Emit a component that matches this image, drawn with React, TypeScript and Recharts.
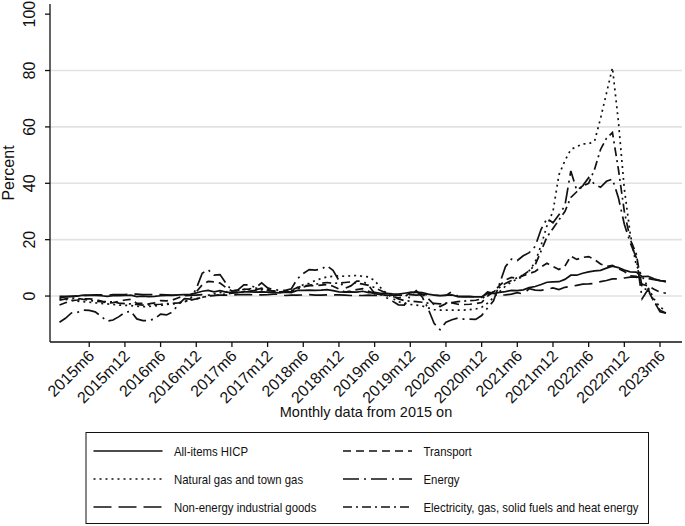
import React from 'react';
import { LineChart, Line, XAxis, YAxis, CartesianGrid } from 'recharts';

// Monthly data, 2015m1 .. 2023m7 (annual rates of change, percent)
const hicp = [
  -0.6, -0.3, -0.1, 0.0, 0.3, 0.2, 0.2, 0.1, -0.1, 0.1, 0.1, 0.2,
  0.3, -0.2, 0.0, -0.2, -0.1, 0.1, 0.2, 0.2, 0.4, 0.5, 0.6, 1.1,
  1.7, 2.0, 1.5, 1.9, 1.4, 1.3, 1.3, 1.5, 1.5, 1.4, 1.5, 1.4,
  1.3, 1.1, 1.4, 1.2, 2.0, 2.0, 2.1, 2.0, 2.1, 2.3, 1.9, 1.5,
  1.4, 1.5, 1.4, 1.7, 1.2, 1.3, 1.0, 1.0, 0.8, 0.7, 1.0, 1.3,
  1.4, 1.2, 0.7, 0.3, 0.1, 0.3, 0.4, -0.2, -0.3, -0.3, -0.3, -0.3,
  0.9, 0.9, 1.3, 1.6, 2.0, 1.9, 2.2, 3.0, 3.4, 4.1, 4.9, 5.0,
  5.1, 5.9, 7.4, 7.4, 8.1, 8.6, 8.9, 9.1, 9.9, 10.6, 10.1, 9.2,
  8.6, 8.5, 6.9, 7.0, 6.1, 5.5, 5.3,
];

const transport = [
  -3.2, -2.4, -1.6, -1.4, -1.0, -1.0, -1.2, -1.8, -2.5, -2.3, -1.9, -1.4,
  -1.2, -2.6, -2.6, -2.8, -2.4, -1.6, -1.7, -1.4, -0.6, 0.1, 0.2, 1.5,
  4.0, 5.2, 5.0, 4.6, 3.0, 1.8, 1.8, 2.4, 2.5, 2.2, 2.8, 2.2,
  1.7, 1.5, 1.7, 2.0, 3.0, 3.6, 3.8, 3.6, 3.9, 4.1, 3.5, 2.5,
  1.4, 1.8, 2.3, 2.6, 1.7, 0.8, 0.6, 0.2, -0.2, -0.6, -0.3, 1.2,
  1.5, 0.6, -0.9, -3.0, -3.7, -2.7, -2.4, -2.9, -3.0, -2.9, -2.7, -2.3,
  0.0, 1.5, 3.7, 5.7, 6.6, 6.3, 7.2, 8.0, 8.7, 10.3, 11.6, 10.5,
  9.4, 10.6, 14.2, 13.0, 13.7, 14.0, 12.9, 11.4, 10.5, 10.9, 9.7, 8.7,
  7.2, 7.0, 4.2, 3.6, 2.4, 1.4, 1.0,
];

const naturalGas = [
  -1.0, -1.2, -1.5, -1.8, -2.0, -2.2, -2.4, -2.6, -2.8, -3.0, -3.2, -3.3,
  -3.4, -3.6, -3.8, -3.7, -3.5, -3.3, -3.0, -2.8, -2.5, -2.0, -1.5, -1.0,
  -0.5, 0.3, 0.8, 1.2, 1.5, 1.8, 2.0, 2.3, 2.6, 2.8, 2.5, 2.2,
  1.8, 1.5, 1.6, 2.0, 3.0, 4.0, 4.5, 5.5, 6.2, 6.8, 7.0, 7.2,
  7.0, 7.2, 7.3, 7.0, 6.8, 5.5, 3.0, 1.0, -0.8, -2.0, -2.6, -3.0,
  -3.2, -3.5, -4.2, -4.8, -5.0, -5.0, -5.0, -5.0, -5.0, -4.8, -4.6, -4.0,
  -2.5, -0.5, 1.5, 3.5, 5.0, 6.0, 7.0, 9.0, 12.0, 18.0, 25.0, 30.0,
  43.0, 48.0, 52.0, 53.0, 54.0, 54.0, 55.0, 63.0, 72.0, 81.0, 62.0, 38.0,
  22.0, 11.0, 7.0, 3.0, -1.0, -4.0, -5.0,
];

const energy = [
  -9.3, -7.9, -6.0, -5.8, -5.0, -5.1, -5.6, -7.2, -8.9, -8.5, -7.3, -5.8,
  -5.4, -8.1, -8.7, -8.7, -8.1, -6.4, -6.7, -5.6, -3.0, -0.9, -1.1, 2.6,
  8.1, 9.3, 7.4, 7.6, 4.5, 1.9, 2.2, 4.0, 3.9, 3.0, 4.7, 2.9,
  2.2, 2.1, 2.0, 2.6, 6.1, 8.0, 9.4, 9.2, 9.5, 10.7, 9.1, 5.5,
  2.7, 3.6, 5.3, 5.3, 3.8, 0.9, 0.5, -0.6, -1.8, -3.1, -3.2, 0.2,
  1.9, -0.3, -4.5, -9.7, -11.9, -9.3, -8.4, -7.8, -8.2, -8.2, -8.3, -6.9,
  -4.2, -1.7, 4.3, 10.4, 13.1, 12.6, 14.3, 15.4, 17.6, 23.7, 27.5, 26.0,
  28.8, 32.0, 44.4, 37.5, 39.1, 42.0, 39.6, 38.6, 40.7, 41.5, 34.9, 25.5,
  18.9, 13.7, -0.9, 2.4, -1.8, -5.6, -6.1,
];

const nonEnergyIndustrialGoods = [
  -0.1, -0.1, -0.1, 0.1, 0.2, 0.3, 0.4, 0.4, 0.3, 0.5, 0.5, 0.5,
  0.7, 0.7, 0.5, 0.5, 0.5, 0.5, 0.4, 0.3, 0.3, 0.3, 0.3, 0.3,
  0.5, 0.2, 0.2, 0.3, 0.3, 0.4, 0.5, 0.5, 0.5, 0.4, 0.4, 0.5,
  0.7, 0.6, 0.2, 0.3, 0.3, 0.4, 0.5, 0.3, 0.3, 0.4, 0.4, 0.4,
  0.3, 0.2, 0.2, 0.2, 0.3, 0.2, 0.3, 0.3, 0.3, 0.3, 0.4, 0.5,
  0.3, 0.5, 0.5, 0.3, 0.2, 0.2, 1.6, -0.1, -0.1, -0.1, -0.3, -0.5,
  1.5, 1.0, 0.3, 0.4, 0.7, 1.2, 0.7, 2.6, 2.1, 2.0, 2.4, 2.9,
  2.3, 3.1, 3.4, 3.8, 4.2, 4.3, 4.5, 5.1, 5.5, 6.1, 6.1, 6.4,
  6.7, 6.8, 6.6, 6.2, 5.8, 5.5, 5.0,
];

const electricityGasFuels = [
  -1.5, -1.0, -0.7, -0.8, -1.2, -1.5, -1.8, -2.0, -2.0, -2.1, -2.5, -2.7,
  -2.8, -3.0, -3.2, -3.1, -3.0, -2.9, -2.7, -2.6, -2.4, -1.9, -1.4, -1.0,
  -0.5, 0.0, 0.2, 0.5, 0.7, 1.0, 1.2, 1.5, 1.8, 2.0, 2.2, 2.0,
  1.8, 1.5, 1.5, 1.6, 2.5, 3.2, 3.8, 4.2, 4.5, 4.8, 4.5, 4.6,
  4.8, 5.0, 4.6, 4.2, 3.8, 3.0, 2.0, 1.0, 0.0, -1.0, -1.6, -1.8,
  -2.0, -2.2, -2.5, -2.6, -2.8, -2.5, -2.3, -2.0, -1.8, -1.6, -1.5, -1.0,
  0.5, 1.5, 3.0, 4.5, 5.5, 6.5, 7.5, 9.0, 11.0, 16.0, 21.0, 24.0,
  27.0, 30.0, 35.0, 37.0, 39.0, 40.0, 45.0, 52.0, 56.0, 58.0, 45.0, 30.0,
  20.0, 15.0, 3.0, 2.0, -2.0, -5.0, -6.0,
];

const xTickLabels = [
  '2015m6', '2015m12', '2016m6', '2016m12', '2017m6', '2017m12', '2018m6', '2018m12',
  '2019m6', '2019m12', '2020m6', '2020m12', '2021m6', '2021m12', '2022m6', '2022m12', '2023m6',
];
const yTicks = [0, 20, 40, 60, 80, 100];
const gridValues = [0, 20, 40, 60, 80];

const xTitle = 'Monthly data from 2015 on';
const yTitle = 'Percent';

const seriesNames = [
  'All-items HICP',
  'Transport',
  'Natural gas and town gas',
  'Energy',
  'Non-energy industrial goods',
  'Electricity, gas, solid fuels and heat energy',
];

const labelToIndex = (s: string) => {
  const [y, m] = s.split('m');
  return (Number(y) - 2015) * 12 + Number(m) - 1;
};
const xTicks = xTickLabels.map(labelToIndex);
const indexToLabel: Record<number, string> = {};
xTickLabels.forEach((l) => (indexToLabel[labelToIndex(l)] = l));

const data = hicp.map((v, i) => ({
  t: i,
  hicp: v,
  transport: transport[i],
  gas: naturalGas[i],
  energy: energy[i],
  neig: nonEnergyIndustrialGoods[i],
  elec: electricityGasFuels[i],
}));

const FONT = '"Liberation Sans", Arial, Helvetica, sans-serif';
const INK = '#111';

const styles = [
  { key: 'hicp', name: seriesNames[0], dash: undefined as string | undefined },
  { key: 'transport', name: seriesNames[1], dash: '8 5' },
  { key: 'gas', name: seriesNames[2], dash: '2 4' },
  { key: 'energy', name: seriesNames[3], dash: '16 5 2 5' },
  { key: 'neig', name: seriesNames[4], dash: '18 7' },
  { key: 'elec', name: seriesNames[5], dash: '9 4 2 4' },
];

const XTick = (props: any) => {
  const { x, y, payload } = props;
  const ax = x + 2;
  const ay = y + 4;
  return (
    <text
      x={ax}
      y={ay}
      dy="0.35em"
      textAnchor="end"
      transform={`rotate(-45 ${ax} ${ay})`}
      fontSize={16}
      fontFamily={FONT}
      fill={INK}
    >
      {indexToLabel[payload.value]}
    </text>
  );
};

const YTick = (props: any) => {
  const { x, y, payload } = props;
  const ax = x - 8;
  return (
    <text
      x={ax}
      y={y}
      textAnchor="middle"
      transform={`rotate(-90 ${ax} ${y})`}
      fontSize={16}
      fontFamily={FONT}
      fill={INK}
    >
      {payload.value}
    </text>
  );
};

const Overlay = () => {
  const rows = [
    [styles[0], styles[1]],
    [styles[2], styles[3]],
    [styles[4], styles[5]],
  ];
  const rowY = [451, 479, 507];
  return (
    <svg
      width={685}
      height={526}
      style={{ position: 'absolute', left: 0, top: 0, pointerEvents: 'none' }}
    >
      <text x={366} y={417} textAnchor="middle" fontSize={14.5} fontFamily={FONT} fill={INK}>
        {xTitle}
      </text>
      <text
        x={14}
        y={173}
        textAnchor="middle"
        transform="rotate(-90 14 173)"
        fontSize={16}
        fontFamily={FONT}
        fill={INK}
      >
        {yTitle}
      </text>
      <rect x={86} y={432.5} width={562.5} height={91} fill="none" stroke={INK} strokeWidth={1} />
      {rows.map((r, ri) =>
        r.map((s, ci) => {
          const sx = ci === 0 ? 93.5 : 343;
          const tx = ci === 0 ? 174 : 423.5;
          return (
            <g key={s.key}>
              <line
                x1={sx}
                x2={sx + 69}
                y1={rowY[ri]}
                y2={rowY[ri]}
                stroke={INK}
                strokeWidth={1.7}
                strokeDasharray={s.dash}
              />
              <text
                x={0}
                y={0}
                transform={`translate(${tx} ${rowY[ri] + 4.5}) scale(1 1.15)`}
                fontSize={11.4}
                fontFamily={FONT}
                fill={INK}
              >
                {s.name}
              </text>
            </g>
          );
        })
      )}
    </svg>
  );
};

export default function App() {
  return (
    <div style={{ position: 'relative', width: 685, height: 526, background: '#fff' }}>
      <style>{'body{margin:0;background:#fff}'}</style>
      <LineChart
        width={685}
        height={526}
        data={data}
        margin={{ top: 4, right: 3, left: 0, bottom: 0 }}
      >
        <CartesianGrid
          vertical={false}
          horizontalValues={gridValues}
          stroke="#e2e2e2"
          strokeWidth={1.6}
        />
        <XAxis
          dataKey="t"
          type="number"
          domain={[-1.6, 104.7]}
          allowDataOverflow
          ticks={xTicks}
          interval={0}
          height={184}
          tickSize={5}
          tick={<XTick />}
          axisLine={{ stroke: INK, strokeWidth: 1.3 }}
          tickLine={{ stroke: INK, strokeWidth: 1.3 }}
        />
        <YAxis
          type="number"
          domain={[-16.3, 103.6]}
          allowDataOverflow
          ticks={yTicks}
          interval={0}
          width={50}
          tickSize={5}
          tick={<YTick />}
          axisLine={{ stroke: INK, strokeWidth: 1.3 }}
          tickLine={{ stroke: INK, strokeWidth: 1.3 }}
        />
        {styles.map((s) => (
          <Line
            key={s.key}
            dataKey={s.key}
            name={s.name}
            type="linear"
            stroke={INK}
            strokeWidth={1.7}
            strokeDasharray={s.dash}
            dot={false}
            activeDot={false}
            isAnimationActive={false}
          />
        ))}
      </LineChart>
      <Overlay />
    </div>
  );
}
